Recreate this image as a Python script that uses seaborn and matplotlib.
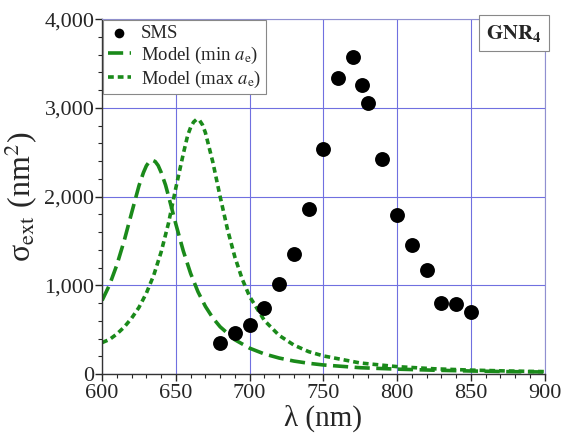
import numpy as np
import pandas as pd
import matplotlib
matplotlib.use("Agg")
import matplotlib.pyplot as plt
import seaborn as sns

# ---- data ----
sms_wl = [680, 690, 700, 710, 720, 730, 740, 750, 760, 770, 776, 780, 790, 800, 810, 820, 830, 840, 850]
sms_sigma = [355, 458, 548, 747, 1010, 1352, 1863, 2532, 3339, 3568, 3253, 3057, 2419, 1792, 1457, 1168, 804, 792, 695]

min_wl = [600, 605, 610, 615, 620, 625, 628, 630, 632, 634, 636, 638, 640, 643, 645, 650, 655, 660, 665, 670, 675, 680, 690, 700,
          710, 720, 730, 740, 750, 775, 800, 825, 850, 875, 900]
min_sigma = [830, 1004, 1230, 1505, 1816, 2123, 2270, 2347, 2395, 2410, 2395, 2350, 2274, 2130, 2006, 1689, 1389, 1134, 927, 763, 634, 533, 387, 292,
             227, 181, 147, 122, 103, 72, 56, 44, 35, 28, 24]

max_wl = [600, 605, 610, 615, 620, 625, 630, 635, 640, 645, 650, 655, 658, 660, 662, 664, 666, 668, 670, 675, 680, 685, 690, 695, 700,
          710, 720, 730, 740, 750, 775, 800, 825, 850, 875, 900]
max_sigma = [355, 390, 452, 530, 630, 752, 912, 1114, 1375, 1700, 2100, 2480, 2690, 2780, 2840, 2870, 2860, 2810, 2721, 2392, 2000, 1630, 1318, 1069, 874,
             604, 436, 327, 253, 205, 125, 84, 60, 45, 35, 28]

x_ticks = [600, 650, 700, 750, 800, 850, 900]
y_ticks = [0, 1000, 2000, 3000, 4000]
y_ticklabels = ["0", "1,000", "2,000", "3,000", "4,000"]

sns.set_style("white")
plt.rcParams['font.family'] = ['Liberation Serif', 'DejaVu Serif']
plt.rcParams['mathtext.fontset'] = 'stix'

fig = plt.figure(figsize=(5.61, 4.34), dpi=100)
ax = fig.add_axes([0.182, 0.138, 0.789, 0.818])

green = "#1a8a1a"
df_min = pd.DataFrame({"wl": min_wl, "s": min_sigma})
df_max = pd.DataFrame({"wl": max_wl, "s": max_sigma})
df_sms = pd.DataFrame({"wl": sms_wl, "s": sms_sigma})

sns.lineplot(data=df_min, x="wl", y="s", ax=ax, color=green, lw=2.6,
             label=r"Model (min $\mathit{a}_\mathrm{e}$)", sort=False)
ax.lines[-1].set_dashes((4.2, 1.8))
sns.lineplot(data=df_max, x="wl", y="s", ax=ax, color=green, lw=2.6,
             label=r"Model (max $\mathit{a}_\mathrm{e}$)", sort=False)
ax.lines[-1].set_dashes((1.6, 1.1))
sns.scatterplot(data=df_sms, x="wl", y="s", ax=ax, color="black", s=115,
                edgecolor="black", linewidth=0, label="SMS", zorder=5)

ax.set_xlim(600, 900)
ax.set_ylim(0, 4000)
ax.set_xticks(x_ticks)
ax.set_yticks(y_ticks)
ax.set_yticklabels(y_ticklabels)
ax.set_xticks(np.arange(600, 901, 10), minor=True)
ax.set_yticks(np.arange(0, 4001, 200), minor=True)
ax.tick_params(axis="both", which="major", labelsize=16, direction="out", length=5, width=1)
ax.tick_params(axis="x", which="major", pad=2)
ax.tick_params(axis="y", which="major", pad=0.5)
ax.tick_params(axis="both", which="minor", direction="out", length=3, width=0.8)
ax.tick_params(axis="x", which="both", bottom=True)
ax.tick_params(axis="y", which="both", left=True)

ax.grid(True, which="major", color="#7070e0", lw=0.8)
ax.set_axisbelow(True)
for side in ["top", "right"]:
    ax.spines[side].set_color("#9090d0")
    ax.spines[side].set_linewidth(0.8)
for side in ["left", "bottom"]:
    ax.spines[side].set_color("#333333")
    ax.spines[side].set_linewidth(1.0)

ax.set_xlabel("λ (nm)", fontsize=21, labelpad=1)
ax.set_ylabel(r"σ$_\mathrm{ext}$ (nm$^2$)", fontsize=23, labelpad=3)

handles, labels = ax.get_legend_handles_labels()
order = [labels.index("SMS"), 0, 1]
leg = ax.legend([handles[i] for i in order], [labels[i] for i in order],
                loc="upper left", fontsize=13.5, frameon=True, fancybox=False,
                edgecolor="#888888", framealpha=1, borderpad=0.25, labelspacing=0.15,
                handlelength=1.25, handletextpad=0.5, borderaxespad=0.05, markerscale=0.65)
leg.get_frame().set_linewidth(0.8)

ax.text(0.993, 0.99, r"$\mathbf{GNR_4}$", transform=ax.transAxes, ha="right", va="top",
        fontsize=15,
        bbox=dict(boxstyle="square,pad=0.35", fc="white", ec="#888888", lw=0.8))

fig.savefig("out.png", dpi=100)
